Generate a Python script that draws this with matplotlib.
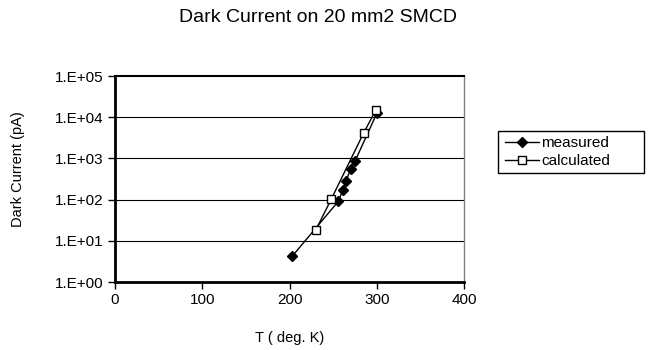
import matplotlib
matplotlib.use("Agg")
import matplotlib.pyplot as plt
from matplotlib.ticker import FixedLocator
from matplotlib.patches import Rectangle

plt.rcParams['font.family'] = ['Liberation Sans', 'DejaVu Sans']

# Data
measured_T = [203, 256, 261, 265, 270, 275, 300]
measured_I = [4.2, 91, 170, 290, 550, 850, 12300]
calculated_T = [230, 248, 285, 299]
calculated_I = [18, 104, 4150, 15000]

title = "Dark Current on 20 mm2 SMCD"
xlabel = "T ( deg. K)"
ylabel = "Dark Current (pA)"
x_ticks = [0, 100, 200, 300, 400]
y_ticks = [1e0, 1e1, 1e2, 1e3, 1e4, 1e5]
y_ticklabels = ["1.E+00", "1.E+01", "1.E+02", "1.E+03", "1.E+04", "1.E+05"]

W, H = 657, 350
fig = plt.figure(figsize=(W / 100, H / 100), dpi=100)
L, R, T, B = 115, 464, 76, 282
ax = fig.add_axes([L / W, 1 - B / H, (R - L) / W, (B - T) / H])

ax.set_yscale('log')
ax.set_xlim(0, 400)
ax.set_ylim(1e0, 1e5)

for y in y_ticks[1:-1]:
    ax.axhline(y, color='black', lw=0.8, zorder=1)

ax.plot(measured_T, measured_I, color='black', lw=1.0, marker='D', ms=5.5,
        mfc='black', mec='black', label='measured', zorder=3)
ax.plot(calculated_T, calculated_I, color='black', lw=1.0, marker='s', ms=6,
        mfc='white', mec='black', mew=1.0, label='calculated', zorder=3)

ax.xaxis.set_major_locator(FixedLocator(x_ticks))
ax.yaxis.set_major_locator(FixedLocator(y_ticks))
ax.yaxis.set_minor_locator(FixedLocator([]))
ax.set_yticklabels(y_ticklabels)
ax.tick_params(axis='both', direction='out', length=5, width=1, labelsize=11,
               colors='black', pad=3)

for s in ['left', 'bottom']:
    ax.spines[s].set_linewidth(2.0)
    ax.spines[s].set_color('black')
ax.spines['top'].set_linewidth(1.5)
ax.spines['top'].set_color('black')
ax.spines['right'].set_linewidth(1.0)
ax.spines['right'].set_color('#808080')

fig.text(318 / W, 1 - 18 / H, title, ha='center', va='center', fontsize=14)
fig.text(290 / W, 1 - 338 / H, xlabel, ha='center', va='center', fontsize=10.5)
fig.text(18 / W, 1 - 169 / H, ylabel, ha='center', va='center', rotation=90,
         fontsize=10.5)

leg = ax.legend(loc='center left', bbox_to_anchor=(505 / W, 1 - 152 / H),
                bbox_transform=fig.transFigure, frameon=False,
                fontsize=11, handlelength=2.2, markerscale=0.9,
                borderpad=0.0, labelspacing=0.25, handletextpad=0.15,
                borderaxespad=0)

fig.patches.append(Rectangle((498 / W, 1 - 173 / H), (644 - 498) / W,
                             (173 - 131) / H, transform=fig.transFigure,
                             fill=False, edgecolor='black', lw=1.0))

fig.savefig('out.png', dpi=100, facecolor='white')
